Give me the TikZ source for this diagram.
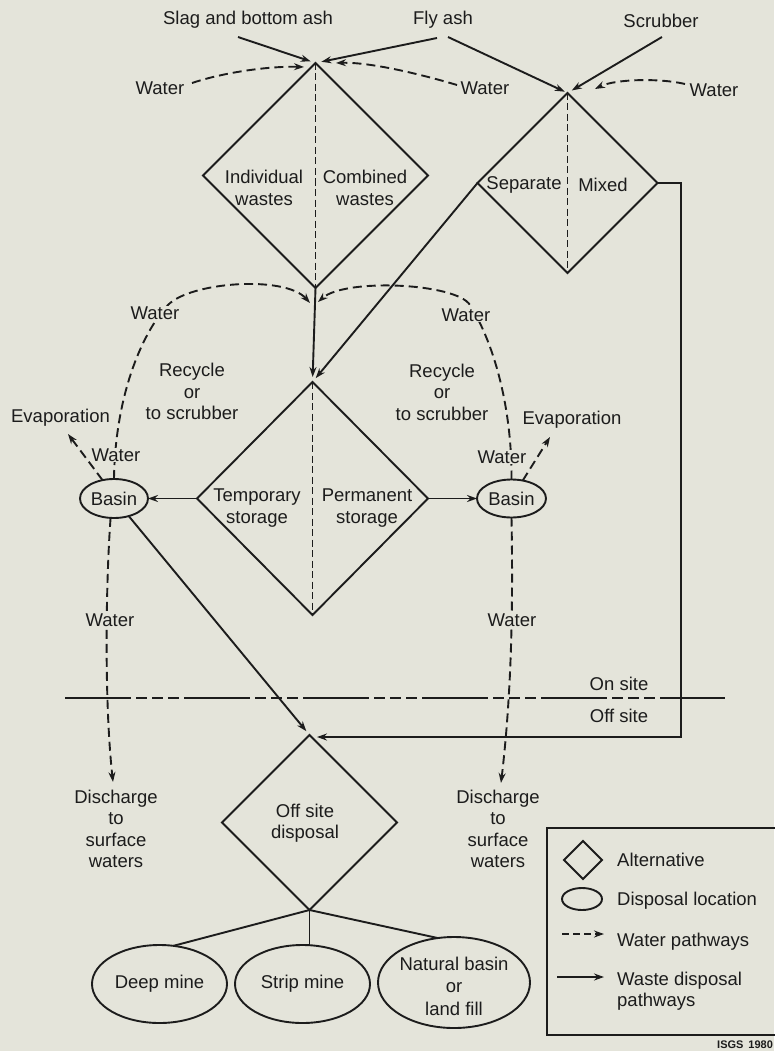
\documentclass[tikz,border=0pt]{standalone}
\usepackage{fontspec}
\setmainfont{Liberation Sans}
\usetikzlibrary{shapes.geometric,arrows.meta,calc}
\definecolor{bg}{RGB}{228,228,218}
\definecolor{ink}{RGB}{28,28,28}
\tikzset{
  lbl/.style={font=\fontsize{18.5}{21.5}\selectfont, text=ink, align=center, inner sep=1pt},
  wl/.style={lbl, fill=bg},
  alt/.style={draw=ink, line width=1.9pt, shape=diamond, aspect=1, inner sep=0pt, outer sep=0pt},
  loc/.style={draw=ink, line width=1.9pt, shape=ellipse, inner sep=0pt, outer sep=0pt},
  tip/.style={-{Stealth[length=10pt,width=7pt]}},
  waste/.style={draw=ink, line width=1.9pt, tip},
  plain/.style={draw=ink, line width=1.9pt},
  water/.style={draw=ink, line width=1.9pt, dash pattern=on 9pt off 5pt, tip},
  split/.style={draw=ink, line width=1.8pt, dash pattern=on 7pt off 3.5pt},
  sitebound/.style={draw=ink, line width=1.7pt, dash pattern=on 66pt off 5pt on 11pt off 5pt on 11pt off 5pt on 11pt off 5pt},
}
\begin{document}
\begin{tikzpicture}[x=1pt,y=-1pt]
\fill[bg] (0,0) rectangle (774,1051);
\useasboundingbox (0,0) rectangle (774,1051);

% sources
\node[lbl] (slag) at (248,20) {Slag and bottom ash};
\node[lbl] (fly) at (443,20) {Fly ash};
\node[lbl] (scr) at (661,21) {Scrubber};
\coordinate (slagE) at (238,37);
\coordinate (flyW) at (437,38);
\coordinate (flyE) at (448,37);
\coordinate (scrS) at (662,37);

% diamonds
\node[alt, minimum width=225pt, minimum height=225pt] (d1) at (315.5,175.5) {};
\node[alt, minimum width=180pt, minimum height=180pt] (d2) at (567.5,183) {};
\node[alt, minimum width=231pt, minimum height=233pt] (d3) at (312.5,498.5) {};
\node[alt, minimum width=175pt, minimum height=175pt] (d4) at (309.5,822.5) {};
\draw[split] (d1.north) -- (d1.south);
\draw[split] (d2.north) -- (d2.south);
\draw[split] (d3.north) -- (d3.south);

\node[lbl] (t1a) at (264,188) {Individual\\wastes};
\node[lbl] (t1b) at (365,188) {Combined\\wastes};
\node[lbl] (t2a) at (524,185) {Separate};
\node[lbl] (t2b) at (603,185) {Mixed};
\node[lbl] (t3a) at (257,508) {Temporary\\storage};
\node[lbl] (t3b) at (367,508) {Permanent\\storage};
\node[lbl] (t4) at (305,823) {Off site\\disposal};

% inputs
\draw[waste, shorten >=5pt] (slagE) -- (d1.north);
\draw[waste, shorten >=6pt] (flyW) -- (d1.north);
\draw[waste, shorten >=3pt] (flyE) -- (d2.north);
\draw[waste, shorten >=5pt] (scrS) -- (d2.north);

% top water
\node[lbl] (w1) at (160,88) {Water};
\node[lbl] (w2) at (485,88) {Water};
\node[lbl] (w3) at (714,90) {Water};
\coordinate (w1s) at (192,83);
\coordinate (w1t) at (304,67);
\coordinate (w2s) at (457,85);
\coordinate (w2t) at (336,63);
\coordinate (w3s) at (685,84);
\coordinate (w3t) at (595,89);
\draw[water] (w1s) .. controls (225,72) and (270,66) .. (w1t);
\draw[water] (w2s) .. controls (420,74) and (370,62) .. (w2t);
\draw[water] (w3s) .. controls (660,78) and (615,79) .. (w3t);

% basins
\node[loc, minimum width=68pt, minimum height=39pt] (bL) at (114,498.5) {};
\node[lbl] at (bL) {Basin};
\node[loc, minimum width=69pt, minimum height=38pt] (bR) at (511.5,498.5) {};
\node[lbl] at (bR) {Basin};

% main waste flows
\draw[waste, shorten >=5pt] (d1.south) -- (d3.north);
\draw[waste, shorten >=5pt] (d2.west) -- (d3.north);
\draw[waste] (d3.west) -- (bL.east);
\draw[waste] (d3.east) -- (bR.west);
\draw[waste, shorten >=5pt] (bL.-50) -- (d4.north);
\coordinate (rbot) at (681,737);
\coordinate (d4tip) at (317,737);
\draw[waste] (d2.east) -| (rbot) -- (d4tip);

% recycle water
\coordinate (lc1) at (168,305);
\coordinate (jL) at (310,303);
\coordinate (rc1) at (470,305);
\coordinate (jR) at (318,302);
\draw[water] (bL.north) .. controls (115,400) and (140,335) .. (lc1)
   .. controls (190,282) and (285,275) .. (jL);
\draw[water] (bR.north) .. controls (512,410) and (495,345) .. (rc1)
   .. controls (456,283) and (345,278) .. (jR);
\node[wl] (wl1) at (155,313) {Water};
\node[wl] (wl2) at (116,455) {Water};
\node[wl] (wr1) at (466,315) {Water};
\node[wl] (wr2) at (502,457) {Water};
\node[lbl] (recL) at (192,391.5) {Recycle\\or\\to scrubber};
\node[lbl] (recR) at (442,392) {Recycle\\or\\to scrubber};

% evaporation
\node[lbl] (evL) at (60.5,418) {Evaporation};
\node[lbl] (evR) at (572,420) {Evaporation};
\coordinate (evLt) at (68,434);
\coordinate (evRt) at (550,437);
\draw[water] (bL.122) -- (evLt);
\draw[water] (bR.58) -- (evRt);

% discharge
\node[lbl] (disL) at (116,829) {Discharge\\to\\surface\\waters};
\node[lbl] (disR) at (498,829) {Discharge\\to\\surface\\waters};
\coordinate (disLt) at (113,782);
\coordinate (disRt) at (501,783);
\draw[water] (bL.-100) .. controls (106,580) and (104,700) .. (disLt);
\draw[water] (bR.south) .. controls (513,600) and (512,690) .. (disRt);
\node[wl] (wl3) at (110,620) {Water};
\node[wl] (wr3) at (512,620) {Water};

% site boundary
\coordinate (sb1) at (65,698);
\coordinate (sb2) at (725,698);
\draw[sitebound] (sb1) -- (sb2);
\node[lbl] (on) at (619,684) {On site};
\node[lbl] (off) at (619,716) {Off site};

% final disposal
\node[loc, minimum width=135pt, minimum height=78pt] (deep) at (159.5,984) {};
\node[loc, minimum width=135pt, minimum height=78pt] (strip) at (302.5,984) {};
\node[loc, minimum width=152pt, minimum height=91pt] (nat) at (454,982.5) {};
\node[lbl] at (deep) {Deep mine};
\node[lbl] at (strip) {Strip mine};
\node[lbl, font=\fontsize{18.5}{22.5}\selectfont] at (454,986) {Natural basin\\or\\land fill};
\draw[plain] (d4.south) -- (deep.70);
\draw[plain] (d4.south) -- (d4.south |- strip.north);
\draw[plain] (d4.south) -- (nat.110);

% legend
\draw[plain] (547,828) rectangle (790,1035);
\node[alt, minimum width=38pt, minimum height=38pt] (kd) at (583,860) {};
\node[loc, minimum width=40pt, minimum height=22pt] (ke) at (582,899) {};
\coordinate (kw1) at (562,934);
\coordinate (kw2) at (604,934);
\coordinate (ks1) at (557,977);
\coordinate (ks2) at (604,977);
\draw[water, dash pattern=on 7pt off 4pt] (kw1) -- (kw2);
\draw[waste] (ks1) -- (ks2);
\node[lbl, anchor=west] (ka) at (616,860) {Alternative};
\node[lbl, anchor=west] (kb) at (616,901) {Disposal location};
\node[lbl, anchor=west] (kc) at (616,942) {Water pathways};
\node[lbl, anchor=west, align=left] (kk) at (616,991) {Waste disposal\\pathways};
\node[anchor=west, text=ink, inner sep=0pt, font=\fontsize{11}{13}\selectfont\bfseries] (isgs) at (717,1045) {ISGS\hspace{5pt}1980};
\end{tikzpicture}
\end{document}
